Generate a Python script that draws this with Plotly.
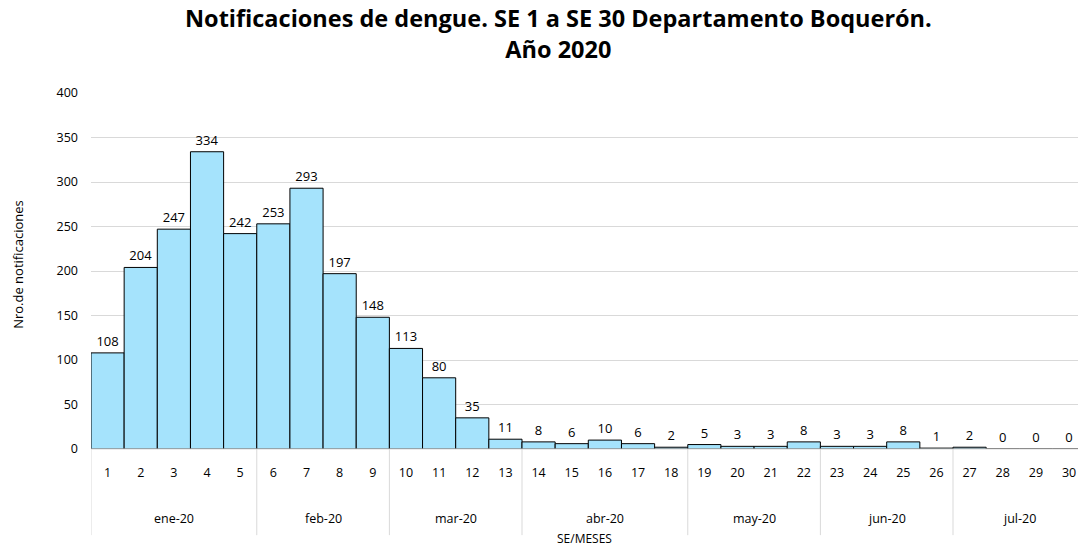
import plotly.graph_objects as go

weeks = [str(i) for i in range(1, 31)]
values = [108, 204, 247, 334, 242, 253, 293, 197, 148, 113, 80, 35, 11, 8, 6,
          10, 6, 2, 5, 3, 3, 8, 3, 3, 8, 1, 2, 0, 0, 0]
months = ["ene-20", "feb-20", "mar-20", "abr-20", "may-20", "jun-20", "jul-20"]
month_counts = [5, 4, 4, 5, 4, 4, 4]
yticks = [0, 50, 100, 150, 200, 250, 300, 350, 400]
title_lines = ["Notificaciones de dengue. SE 1 a SE 30 Departamento Boquerón.",
               "Año 2020"]

FONT = "Open Sans"
xs = list(range(len(weeks)))

fig = go.Figure()
fig.add_trace(go.Bar(
    x=xs, y=values, width=1.0,
    marker=dict(color="#A5E3FC", line=dict(color="#000000", width=1)),
    text=[str(v) for v in values], textposition="outside",
    textfont=dict(family=FONT, size=13, color="#000000"),
    cliponaxis=False, hoverinfo="x+y",
))

shapes = []
annotations = []
# month group separators and labels
start = 0
bounds = [-0.5]
for m, c in zip(months, month_counts):
    center = start + (c - 1) / 2
    annotations.append(dict(x=center, y=-0.194, xref="x", yref="paper",
                            text=m, showarrow=False, yanchor="middle",
                            font=dict(family=FONT, size=12.5, color="#000000")))
    start += c
    bounds.append(start - 0.5)
for b in bounds:
    shapes.append(dict(type="line", xref="x", yref="paper", x0=b, x1=b,
                       y0=0, y1=-0.242, line=dict(color="#D9D9D9", width=1)))
shapes.append(dict(type="line", xref="x", yref="paper", x0=-0.5, x1=29.5,
                   y0=0, y1=0, line=dict(color="#D9D9D9", width=1)))

annotations.append(dict(x=0.5, y=-0.252, xref="paper", yref="paper",
                        text="SE/MESES", showarrow=False, yanchor="middle",
                        font=dict(family=FONT, size=12, color="#000000")))
annotations.append(dict(x=-0.074, y=0.52, xref="paper", yref="paper",
                        text="Nro.de notificaciones", showarrow=False,
                        textangle=-90, xanchor="center", yanchor="middle",
                        font=dict(family=FONT, size=13, color="#000000")))
annotations.append(dict(x=0.474, y=1.167, xref="paper", yref="paper",
                        text="<br>".join("<b>" + t + "</b>" for t in title_lines),
                        showarrow=False, xanchor="center", yanchor="middle",
                        font=dict(family=FONT, size=23.5, color="#000000")))

fig.update_layout(
    width=1078, height=547,
    margin=dict(l=91, r=0, t=93, b=98),
    plot_bgcolor="white", paper_bgcolor="white",
    showlegend=False,
    xaxis=dict(tickmode="array", tickvals=xs, ticktext=weeks,
               range=[-0.5, 29.27], showgrid=False, zeroline=False,
               showline=False, ticks="", ticklabelstandoff=14,
               ticklabeloverflow="allow",
               tickfont=dict(family=FONT, size=12.5, color="#000000")),
    yaxis=dict(tickmode="array", tickvals=yticks, range=[0, 400],
               showgrid=True, gridcolor="#D9D9D9", gridwidth=1,
               zeroline=False, showline=False, ticks="",
               ticklabelstandoff=12,
               tickfont=dict(family=FONT, size=12.5, color="#000000")),
    shapes=shapes, annotations=annotations,
)

fig.write_html("out.html", config={"displayModeBar": False},
               post_script="document.body.style.margin='0';document.body.style.overflow='hidden';")
